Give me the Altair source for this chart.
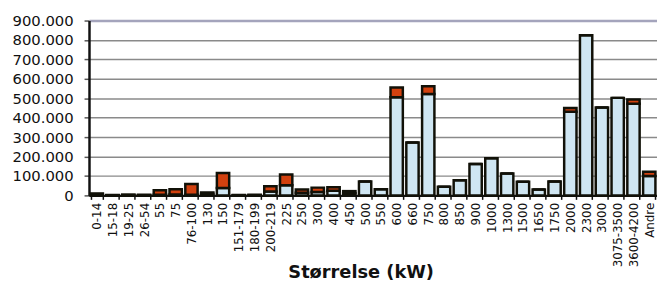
import altair as alt
import pandas as pd

categories = ["0-14", "15-18", "19-25", "26-54", "55", "75", "76-100", "130", "150",
              "151-179", "180-199", "200-219", "225", "250", "300", "400", "450", "500",
              "550", "600", "660", "750", "800", "850", "900", "1000", "1300", "1500",
              "1650", "1750", "2000", "2300", "3000", "3075-3500", "3600-4200", "Andre"]

blue_values = [4000, 1000, 2000, 1500, 4000, 5000, 4000, 8000, 38000,
               1000, 1500, 20000, 52000, 14000, 18000, 24000, 12000, 72000,
               32000, 505000, 272000, 522000, 45000, 78000, 162000, 191000, 113000, 70000,
               30000, 71000, 430000, 824000, 452000, 502000, 472000, 100000]

red_values = [6000, 1000, 2000, 1500, 23000, 27000, 55000, 7000, 77000,
              1000, 1500, 27000, 55000, 16000, 22000, 18000, 10000, 0,
              0, 50000, 0, 40000, 0, 0, 0, 0, 0, 0,
              0, 0, 20000, 0, 0, 0, 22000, 22000]

series_names = ["Serie 1", "Serie 2"]
series_colors = ["#cfe6f2", "#d2410f"]

rows = []
for c, b, r in zip(categories, blue_values, red_values):
    rows.append({"cat": c, "serie": series_names[0], "val": b, "ord": 0})
    rows.append({"cat": c, "serie": series_names[1], "val": r, "ord": 1})
df = pd.DataFrame(rows)

chart = alt.Chart(df).mark_bar(stroke="#111108", strokeWidth=2.5).encode(
    x=alt.X("cat:N", sort=categories, title="Størrelse (kW)",
            scale=alt.Scale(paddingInner=0.22, paddingOuter=0.1),
            axis=alt.Axis(labelAngle=-90, labelFont="DejaVu Sans", labelFontSize=12,
                          labelColor="#111", tickBand="extent", tickSize=4, tickColor="#111",
                          tickWidth=1.5, domainColor="#111", domainWidth=2.5, labelPadding=3,
                          titleFont="DejaVu Sans", titleFontSize=18, titleFontWeight="bold",
                          titleColor="#111", titlePadding=-3, titleX=275)),
    y=alt.Y("val:Q", stack="zero", title=None,
            scale=alt.Scale(domain=[0, 900000], nice=False),
            axis=alt.Axis(values=list(range(0, 900001, 100000)),
                          labelExpr="replace(format(datum.value, ','), ',', '.')",
                          labelFont="DejaVu Sans", labelFontSize=15, labelColor="#111",
                          tickSize=5, tickColor="#555", tickWidth=1.5, labelPadding=11,
                          domainColor="#111", domainWidth=2.5,
                          gridColor={"condition": {"test": "datum.value == 900000", "value": "#a4a4bc"}, "value": "#8a8a8a"},
                          gridWidth={"condition": {"test": "datum.value == 900000", "value": 2.5}, "value": 1.5})),
    color=alt.Color("serie:N", scale=alt.Scale(domain=series_names, range=series_colors), legend=None),
    order=alt.Order("ord:Q"),
).properties(
    width=575, height=177,
    padding={"left": 3, "top": 4, "right": 0, "bottom": 0},
).configure_view(stroke=None).configure_axis(grid=True).configure_axisX(grid=False)

chart.save("out.html", embed_options={"renderer": "svg", "actions": False})
